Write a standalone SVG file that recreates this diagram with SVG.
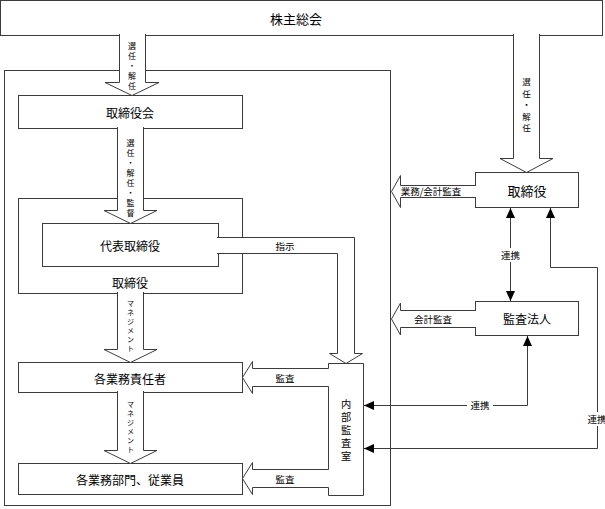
<svg xmlns="http://www.w3.org/2000/svg" width="605" height="509" viewBox="0 0 605 509">
<style>
.box{fill:#fff;stroke:#3c3c3c;stroke-width:1}
.blk{fill:#fff;stroke:#3c3c3c;stroke-width:1;stroke-linejoin:miter}
.ln{fill:none;stroke:#3c3c3c;stroke-width:1}
text{font-family:"Noto Sans CJK JP","Noto Sans CJK SC",sans-serif;fill:#000;text-anchor:middle;dominant-baseline:central}
.t13{font-size:13px}
.t12{font-size:12px}
.s{font-size:9.5px}
.v{font-size:8px}
.vk{font-size:7px}
.vr{font-size:8.5px}
.vb{font-size:10.2px}
.lb{fill:#fff;stroke:none}
</style>
<defs>
<marker id="ah" markerUnits="userSpaceOnUse" markerWidth="11" markerHeight="9" refX="10" refY="4.5" orient="auto-start-reverse">
<path d="M0,0 L10,4.5 L0,9 Z" fill="#000"/>
</marker>
</defs>

<g id="shareholders">
<rect class="box" x="0.5" y="0.5" width="602" height="35"/>
<text class="t13" x="296" y="18">株主総会</text>
</g>

<g id="company">
<rect class="box" x="4.5" y="70.5" width="386" height="435"/>
</g>

<g id="board">
<rect class="box" x="18.5" y="95.5" width="224" height="33"/>
<text class="t12" x="130" y="112">取締役会</text>
</g>

<g id="directors">
<rect class="box" x="18.5" y="198.5" width="224" height="95"/>
<text class="t12" x="130" y="282">取締役</text>
</g>

<g id="ceo">
<rect class="box" x="42.5" y="223.5" width="176" height="43"/>
<text class="t12" x="130" y="245">代表取締役</text>
</g>

<g id="managers">
<rect class="box" x="18.5" y="362.5" width="224" height="30"/>
<text class="t12" x="130" y="378">各業務責任者</text>
</g>

<g id="staff">
<rect class="box" x="18.5" y="463.5" width="224" height="31"/>
<text class="t12" x="130" y="479">各業務部門、従業員</text>
</g>

<g id="internal-audit">
<path class="blk" d="M328.5,363.5 H363.5 V495.5 H328.5 V487.5 H252.5 V494.5 L242.5,478.5 L252.5,462.5 V469.5 H328.5 V386.5 H252.5 V393.5 L242.5,377.5 L252.5,361.5 V368.5 H328.5 Z"/>
<text class="vb" x="346" y="403">内</text>
<text class="vb" x="346" y="416">部</text>
<text class="vb" x="346" y="429">監</text>
<text class="vb" x="346" y="442">査</text>
<text class="vb" x="346" y="455">室</text>
<text class="s" x="285" y="378">監査</text>
<text class="s" x="285" y="479">監査</text>
</g>

<g id="auditor-board">
<path class="blk" d="M476.5,185.5 H400.5 V175.5 L391.5,191.5 L400.5,207.5 V197.5 H476.5"/>
<rect class="box" x="475.5" y="172.5" width="103" height="35"/>
<rect x="475" y="186" width="2" height="11" fill="#fff"/>
<text class="t13" x="527" y="190">取締役</text>
<text class="s" x="431" y="191">業務/会計監査</text>
</g>

<g id="audit-firm">
<path class="blk" d="M476.5,310.5 H400.5 V303 L391.5,319 L400.5,335 V327.5 H476.5"/>
<rect class="box" x="475.5" y="301.5" width="103" height="34"/>
<rect x="475" y="311" width="2" height="16" fill="#fff"/>
<text class="t12" x="527" y="318">監査法人</text>
<text class="s" x="433" y="319">会計監査</text>
</g>

<g id="connectors">
<path class="blk" d="M119.5,34 V82.5 H105 L132,95.5 L159,82.5 H145.5 V34"/>
<text class="v" x="132" y="45">選</text>
<text class="v" x="132" y="55">任</text>
<text class="v" x="132" y="65">・</text>
<text class="v" x="132" y="75">解</text>
<text class="v" x="132" y="85">任</text>

<path class="blk" d="M117.5,127 V210.5 H104 L130.5,223.5 L157,210.5 H143.5 V127"/>
<text class="v" x="130.5" y="142">選</text>
<text class="v" x="130.5" y="152">任</text>
<text class="v" x="130.5" y="162">・</text>
<text class="v" x="130.5" y="172">解</text>
<text class="v" x="130.5" y="182">任</text>
<text class="v" x="130.5" y="192">・</text>
<text class="v" x="130.5" y="202">監</text>
<text class="v" x="130.5" y="212">督</text>

<path class="blk" d="M217,237.5 H354.5 V353.5 H362.5 L346,363.5 L329.5,353.5 H337.5 V253.5 H217"/>
<text class="s" x="285" y="246">指示</text>

<path class="blk" d="M117.5,292 V349.5 H104 L130.5,362.5 L157,349.5 H143.5 V292"/>
<text class="vk" x="130.5" y="303">マ</text>
<text class="vk" x="130.5" y="312">ネ</text>
<text class="vk" x="130.5" y="321">ジ</text>
<text class="vk" x="130.5" y="330">メ</text>
<text class="vk" x="130.5" y="339">ン</text>
<text class="vk" x="130.5" y="348">ト</text>

<path class="blk" d="M117.5,391 V450.5 H104 L130.5,463.5 L157,450.5 H143.5 V391"/>
<text class="vk" x="130.5" y="403.5">マ</text>
<text class="vk" x="130.5" y="412.5">ネ</text>
<text class="vk" x="130.5" y="421.5">ジ</text>
<text class="vk" x="130.5" y="430.5">メ</text>
<text class="vk" x="130.5" y="439.5">ン</text>
<text class="vk" x="130.5" y="448.5">ト</text>

<path class="blk" d="M513.5,34 V158.5 H500 L526.5,172.5 L553,158.5 H539.5 V34"/>
<text class="vr" x="526.5" y="81">選</text>
<text class="vr" x="526.5" y="92.5">任</text>
<text class="vr" x="526.5" y="104">・</text>
<text class="vr" x="526.5" y="115.5">解</text>
<text class="vr" x="526.5" y="127">任</text>

<path class="ln" d="M510.5,208 V301" marker-start="url(#ah)" marker-end="url(#ah)"/>
<rect class="lb" x="498" y="248" width="25" height="14"/>
<text class="s" x="510.5" y="255">連携</text>

<path class="ln" d="M550.5,208 V267.5 H597.5 V448.5 H364" marker-start="url(#ah)" marker-end="url(#ah)"/>
<rect class="lb" x="585" y="412" width="25" height="14"/>
<text class="s" x="597" y="419">連携</text>

<path class="ln" d="M527.5,336 V405.5 H364" marker-start="url(#ah)" marker-end="url(#ah)"/>
<rect class="lb" x="467" y="398" width="26" height="14"/>
<text class="s" x="480" y="405">連携</text>
</g>
</svg>
